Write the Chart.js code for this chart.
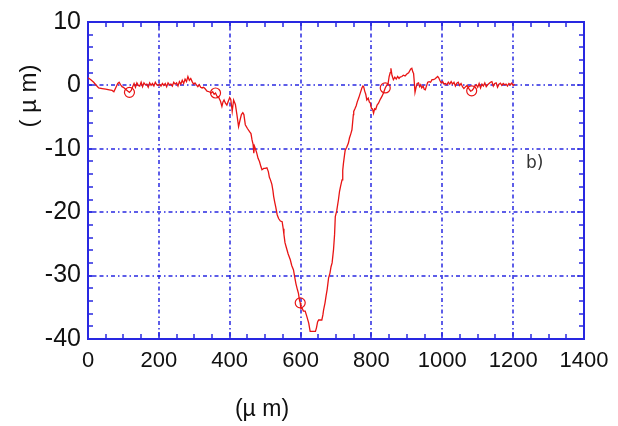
<!DOCTYPE html>
<html>
<head>
<meta charset="utf-8">
<script src="https://cdn.jsdelivr.net/npm/chart.js@4.4.1/dist/chart.umd.min.js"></script>
<style>
  html, body { margin: 0; padding: 0; background: #fff; }
  canvas { display: block; }
</style>
</head>
<body>
<canvas id="chart" width="618" height="426"></canvas>
<script>
/* surface profile, b) */
const xTicks = [0, 200, 400, 600, 800, 1000, 1200, 1400];
const yTicks = [10, 0, -10, -20, -30, -40];
const xTitle = '(\u00b5 m)';
const yTitle = '( \u00b5 m)';
const panelLabel = 'b)';

const profileX = [
  0, 8, 16, 22, 30, 40, 50, 60, 68, 73, 78, 84, 88, 92, 96, 100, 106, 112, 117, 122,
  126, 130, 134, 138, 142, 146, 150, 154, 158, 162, 166, 170, 174, 178, 182, 186, 190, 194, 198, 202,
  206, 210, 214, 218, 222, 226, 230, 234, 238, 242, 246, 250, 254, 258, 262, 266, 270, 274, 278, 282,
  286, 290, 294, 298, 302, 306, 310, 314, 318, 322, 326, 330, 336, 342, 348, 352, 356, 360, 364, 369,
  374, 378, 381, 384, 388, 392, 396, 400, 403, 407, 411, 416, 420, 425, 429, 433, 437, 440, 444, 450,
  456, 460, 463, 466, 468, 470, 472, 476, 480, 484, 488, 491, 496, 500, 505, 509, 512, 515, 519, 522,
  524, 527, 530, 534, 538, 543, 548, 551, 553, 556, 560, 565, 571, 575, 580, 584, 587, 591, 594, 597,
  599, 601, 604, 608, 613, 618, 623, 627, 635, 642, 645, 648, 651, 660, 663, 665, 669, 672, 675, 679,
  683, 686, 689, 693, 696, 698, 702, 707, 710, 713, 717, 719, 721, 724, 726, 730, 735, 738, 742, 745,
  747, 749, 750, 754, 757, 760, 764, 768, 773, 776, 778, 781, 784, 787, 791, 794, 797, 800, 803, 806,
  809, 812, 816, 820, 825, 830, 834, 839, 843, 847, 850, 853, 855, 858, 862, 866, 870, 874, 878, 881,
  886, 890, 895, 900, 905, 911, 914, 917, 919, 921, 923, 926, 929, 933, 936, 939, 942, 946, 949, 952,
  956, 959, 963, 967, 971, 975, 979, 983, 987, 990, 993, 997, 1001, 1005, 1009, 1013, 1017, 1021, 1025, 1029,
  1033, 1037, 1041, 1045, 1049, 1053, 1057, 1061, 1066, 1070, 1075, 1080, 1084, 1088, 1092, 1096, 1100, 1104, 1108, 1112,
  1116, 1120, 1124, 1128, 1132, 1136, 1140, 1144, 1148, 1152, 1156, 1160, 1164, 1168, 1172, 1176, 1180, 1184, 1188, 1192,
  1196, 1200, 1204
];
const profileY = [
  1.2, 0.9, 0.5, 0.1, -0.4, -0.5, -0.6, -0.7, -0.8, -1.0, -0.4, 0.3, 0.5, 0.1, -0.2, -0.3, -0.6, -0.9, -1.1, -0.8,
  -0.2, 0.3, -0.3, 0.4, 0.0, -0.1, 0.5, -0.2, 0.4, 0.1, 0.2, -0.3, 0.4, 0.0, 0.3, -0.1, 0.5, 0.1, 0.0, 0.2,
  -0.1, 0.3, 0.0, 0.3, -0.2, 0.4, 0.1, 0.2, -0.1, 0.5, 0.2, 0.4, -0.1, 0.6, 0.2, 0.8, 0.3, 1.0, 0.6, 1.4,
  0.8, 1.1, 0.6, 0.2, 0.4, 0.1, -0.2, 0.1, -0.3, -0.4, -0.3, -0.5, -0.9, -1.0, -1.2, -1.0, -1.4, -1.2, -1.7, -1.9,
  -2.5, -3.3, -2.6, -2.3, -2.8, -3.1, -2.5, -1.9, -2.2, -4.1, -2.3, -3.0, -4.5, -6.5, -5.5, -4.6, -4.3, -4.6, -6.2, -6.8,
  -7.3, -7.6, -8.6, -9.3, -10.7, -9.6, -9.9, -10.6, -11.5, -12.0, -12.8, -13.3, -13.1, -13.1, -13.0, -13.6, -14.5, -14.9, -15.6, -16.6,
  -17.5, -18.4, -19.2, -20.4, -21.0, -21.4, -21.5, -22.6, -23.5, -24.8, -25.6, -26.6, -27.5, -28.4, -29.1, -30.4, -31.3, -32.2, -32.8, -33.9,
  -34.3, -35.2, -35.1, -35.6, -35.6, -36.5, -37.5, -38.8, -38.8, -38.8, -38.2, -37.3, -37.0, -37.0, -36.2, -35.4, -34.3, -33.2, -32.2, -30.4,
  -29.6, -28.6, -28.0, -25.9, -23.5, -20.7, -19.8, -18.0, -16.7, -15.9, -14.9, -13.4, -12.3, -11.0, -10.2, -9.8, -9.1, -8.3, -7.6, -7.0,
  -5.8, -4.6, -4.1, -3.6, -3.2, -2.6, -2.0, -1.3, -0.4, -0.1, -0.2, -0.9, -1.4, -2.3, -2.0, -2.6, -2.8, -3.6, -3.7, -4.4,
  -3.7, -3.8, -3.1, -2.8, -2.2, -1.7, -1.2, -0.4, 0.0, 0.3, 1.4, 2.0, 2.7, 1.6, 0.9, 1.3, 1.0, 1.4, 1.1, 1.3,
  1.4, 1.6, 1.5, 1.8, 2.0, 2.6, 2.7, 2.1, 1.9, 0.5, -1.1, -0.3, 0.3, 0.4, -0.2, 0.1, -0.4, -0.1, -0.6, -0.7,
  0.0, 0.5, 0.6, 0.5, 0.9, 0.9, 1.0, 1.2, 1.4, 1.2, 0.8, 0.4, 0.6, 0.2, 0.3, 0.1, 0.5, 0.2, 0.6, 0.2,
  0.5, -0.1, 0.35, 0.5, 0.0, 0.3, -0.2, -0.5, -0.2, 0.0, -0.5, -0.9, -0.8, -0.5, -0.1, 0.1, -0.3, 0.3, -0.4, 0.2,
  -0.1, 0.4, -0.2, 0.1, 0.3, 0.5, 0.6, -0.1, 0.3, 0.4, -0.3, 0.2, 0.35, 0.0, 0.3, 0.1, 0.2, -0.1, 0.3, 0.1,
  0.35, 0.0, 0.2
];
const markerX = [117, 360, 599, 839, 1083];
const markerY = [-1.1, -1.2, -34.3, -0.4, -0.85];

const BLUE = 'rgb(40,40,225)';
const RED = 'rgb(232,20,20)';
const xMinorStep = 50, yMinorStep = 2;

// frame, dash-dot grid, inward ticks and the loose texts
const framePlugin = {
  id: 'frame',
  beforeDatasetsDraw(chart) {
    const { ctx, chartArea: a, scales: { x, y } } = chart;
    ctx.save();
    ctx.strokeStyle = BLUE;
    ctx.lineWidth = 1.5;
    ctx.setLineDash([4, 3, 1.5, 3]);
    for (const v of xTicks) {
      const px = Math.round(x.getPixelForValue(v));
      ctx.beginPath(); ctx.moveTo(px, a.top); ctx.lineTo(px, a.bottom); ctx.stroke();
    }
    for (const v of yTicks) {
      const py = Math.round(y.getPixelForValue(v));
      ctx.beginPath(); ctx.moveTo(a.left, py); ctx.lineTo(a.right, py); ctx.stroke();
    }
    ctx.setLineDash([]);
    for (let v = x.min; v <= x.max; v += xMinorStep) {
      const px = Math.round(x.getPixelForValue(v));
      const len = v % 200 === 0 ? 7 : 5;
      ctx.beginPath();
      ctx.moveTo(px, a.bottom); ctx.lineTo(px, a.bottom - len);
      ctx.moveTo(px, a.top); ctx.lineTo(px, a.top + len);
      ctx.stroke();
    }
    for (let v = y.min; v <= y.max; v += yMinorStep) {
      const py = Math.round(y.getPixelForValue(v));
      const len = v % 10 === 0 ? 7 : 5;
      ctx.beginPath();
      ctx.moveTo(a.left, py); ctx.lineTo(a.left + len, py);
      ctx.moveTo(a.right, py); ctx.lineTo(a.right - len, py);
      ctx.stroke();
    }
    ctx.lineWidth = 2;
    ctx.strokeRect(a.left, a.top, a.width, a.height);
    ctx.restore();
  },
  afterDraw(chart) {
    const { ctx } = chart;
    ctx.save();
    ctx.fillStyle = '#111';
    ctx.textAlign = 'center';
    ctx.textBaseline = 'middle';
    ctx.font = '23px "Liberation Sans", Arial, sans-serif';
    ctx.fillText(xTitle, 262, 410);
    ctx.translate(29, 96);
    ctx.rotate(-Math.PI / 2);
    ctx.font = '24px "Liberation Sans", Arial, sans-serif';
    ctx.fillText(yTitle, 0, 0);
    ctx.restore();
    ctx.save();
    ctx.fillStyle = '#333';
    ctx.font = '17px "DejaVu Sans", sans-serif';
    ctx.textBaseline = 'middle';
    ctx.fillText(panelLabel, 526, 164);
    ctx.restore();
  }
};

const tickFont = { family: '"Liberation Sans", Arial, sans-serif' };

new Chart(document.getElementById('chart'), {
  type: 'scatter',
  data: {
    datasets: [
      {
        data: profileX.map((v, i) => ({ x: v, y: profileY[i] })),
        showLine: true,
        borderColor: RED,
        borderWidth: 1.3,
        pointRadius: 0,
        tension: 0
      },
      {
        data: markerX.map((v, i) => ({ x: v, y: markerY[i] })),
        showLine: false,
        pointStyle: 'circle',
        pointRadius: 5,
        pointBorderWidth: 1.2,
        pointBorderColor: RED,
        pointBackgroundColor: 'rgba(0,0,0,0)'
      }
    ]
  },
  options: {
    responsive: false,
    animation: false,
    devicePixelRatio: 1,
    layout: { padding: { left: 0, top: 19, right: 34, bottom: 0 } },
    plugins: { legend: { display: false }, tooltip: { enabled: false } },
    scales: {
      x: {
        type: 'linear', min: 0, max: 1400,
        afterBuildTicks: s => { s.ticks = xTicks.map(v => ({ value: v })); },
        afterFit: s => { s.height = 87; },
        grid: { display: false, drawTicks: false },
        border: { display: false },
        ticks: { padding: 9, color: '#111', font: { ...tickFont, size: 22 }, callback: v => String(v) }
      },
      y: {
        type: 'linear', min: -40, max: 10,
        afterBuildTicks: s => { s.ticks = yTicks.map(v => ({ value: v })); },
        afterFit: s => { s.width = 88; },
        grid: { display: false, drawTicks: false },
        border: { display: false },
        ticks: { padding: 7, color: '#111', font: { ...tickFont, size: 25 }, callback: v => String(v) }
      }
    }
  },
  plugins: [framePlugin]
});
</script>
</body>
</html>
